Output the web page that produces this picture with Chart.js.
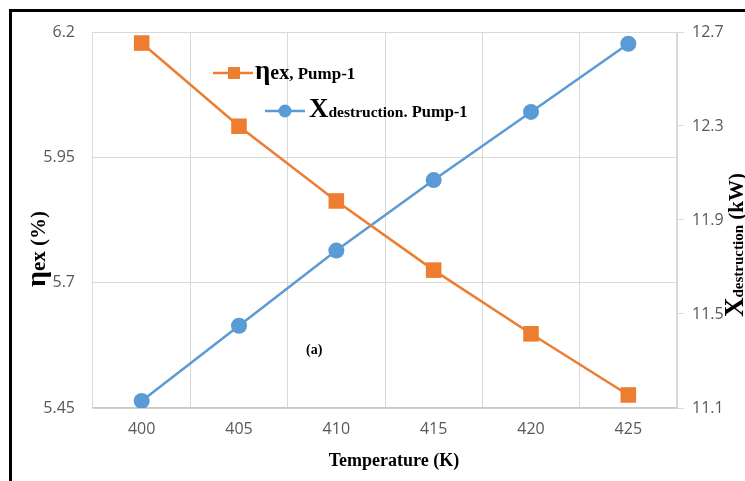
<!DOCTYPE html>
<html>
<head>
<meta charset="utf-8">
<script src="https://cdn.jsdelivr.net/npm/chart.js@4.4.1/dist/chart.umd.min.js"></script>
<style>
    html, body { margin: 0; padding: 0; background: #fff; }
    #wrap { position: relative; width: 745px; height: 481px; overflow: hidden; }
    #frame { position: absolute; left: 9px; top: 9px; width: 760px; height: 500px;
             border-left: 3px solid #000; border-top: 3px solid #000; }
    #chart { position: absolute; left: 0; top: 0; }
</style>
</head>
<body>
<div id="wrap">
    <div id="frame"></div>
    <canvas id="chart" width="745" height="481"></canvas>
</div>
<script>
// Data
const temperatures = ['400', '405', '410', '415', '420', '425'];
const etaEx = [6.178, 6.012, 5.863, 5.725, 5.598, 5.476];          // %
const xDestruction = [11.13, 11.45, 11.77, 12.07, 12.36, 12.65];   // kW
const leftTicks = [5.45, 5.7, 5.95, 6.2];
const rightTicks = [11.1, 11.5, 11.9, 12.3, 12.7];

const ORANGE = '#ED7D31';
const BLUE = '#5B9BD5';
const GRID = '#d9d9d9';
const SERIF = '"Liberation Serif", "Times New Roman", serif';

// draw a run of text pieces [text, font, dy] left to right
function drawRun(ctx, x, y, pieces) {
    pieces.forEach(p => {
        ctx.font = p[1];
        ctx.fillText(p[0], x, y + (p[2] || 0));
        x += ctx.measureText(p[0]).width;
    });
}

// titles, legend and the "(a)" tag
const annotations = {
    id: 'annotations',
    afterDraw(chart) {
        const ctx = chart.ctx;
        ctx.save();
        ctx.fillStyle = '#000';
        ctx.textBaseline = 'alphabetic';
        ctx.textAlign = 'left';

        // x title
        ctx.font = 'bold 18px ' + SERIF;
        const t = 'Temperature (K)';
        ctx.fillText(t, 394 - ctx.measureText(t).width / 2, 466);

        // (a)
        ctx.font = 'bold 14px ' + SERIF;
        ctx.fillText('(a)', 306, 354);

        // left y title
        ctx.save();
        ctx.translate(45, 287);
        ctx.rotate(-Math.PI / 2);
        drawRun(ctx, 0, 0, [
            ['η', 'bold 28px ' + SERIF],
            ['ex (%)', 'bold 21px ' + SERIF]
        ]);
        ctx.restore();

        // right y title
        ctx.save();
        ctx.translate(743, 317);
        ctx.rotate(-Math.PI / 2);
        drawRun(ctx, 0, 0, [
            ['X', 'bold 27px ' + SERIF],
            ['destruction', 'bold 15px ' + SERIF, 0],
            [' (kW)', 'bold 21px ' + SERIF]
        ]);
        ctx.restore();

        // legend item 1
        ctx.strokeStyle = ORANGE;
        ctx.lineWidth = 2.5;
        ctx.beginPath();
        ctx.moveTo(213, 73); ctx.lineTo(253, 73);
        ctx.stroke();
        ctx.fillStyle = ORANGE;
        ctx.fillRect(228, 67, 12, 12);
        ctx.fillStyle = '#000';
        drawRun(ctx, 255, 79, [
            ['η', 'bold 27px ' + SERIF],
            ['ex', 'bold 20px ' + SERIF],
            [', Pump-1', 'bold 17px ' + SERIF]
        ]);

        // legend item 2
        ctx.strokeStyle = BLUE;
        ctx.beginPath();
        ctx.moveTo(265, 111); ctx.lineTo(305, 111);
        ctx.stroke();
        ctx.fillStyle = BLUE;
        ctx.beginPath();
        ctx.arc(285, 111, 6.5, 0, Math.PI * 2);
        ctx.fill();
        ctx.fillStyle = '#000';
        drawRun(ctx, 309, 117, [
            ['X', 'bold 27px ' + SERIF],
            ['destruction', 'bold 15.5px ' + SERIF],
            ['. Pump-1', 'bold 16.5px ' + SERIF]
        ]);
        ctx.restore();
    }
};

const tickFont = { family: '"Open Sans", sans-serif', size: 16 };

new Chart(document.getElementById('chart'), {
    type: 'line',
    data: {
        labels: temperatures,
        datasets: [
            {
                label: 'ηex, Pump-1',
                data: etaEx,
                yAxisID: 'yLeft',
                borderColor: ORANGE,
                backgroundColor: ORANGE,
                borderWidth: 2.5,
                pointStyle: 'rect',
                pointRadius: 11,
                pointBorderWidth: 0,
                tension: 0
            },
            {
                label: 'Xdestruction, Pump-1',
                data: xDestruction,
                yAxisID: 'yRight',
                borderColor: BLUE,
                backgroundColor: BLUE,
                borderWidth: 2.5,
                pointStyle: 'circle',
                pointRadius: 8,
                pointBorderWidth: 0,
                tension: 0
            }
        ]
    },
    options: {
        responsive: false,
        animation: false,
        layout: { padding: { top: 32, left: 0, right: 0, bottom: 0 } },
        plugins: { legend: { display: false }, tooltip: { enabled: false } },
        scales: {
            x: {
                offset: true,
                grid: { color: GRID, offset: true, drawTicks: false },
                border: { color: '#c8c8c8', width: 1.5 },
                ticks: { color: '#595959', font: tickFont, padding: 12, maxRotation: 0 },
                afterFit: s => { s.height = 73; }
            },
            yLeft: {
                position: 'left',
                min: 5.45,
                max: 6.2,
                afterBuildTicks: s => { s.ticks = leftTicks.map(v => ({ value: v })); },
                grid: { color: GRID, drawTicks: false },
                border: { display: false },
                ticks: { color: '#595959', font: tickFont, padding: 18, callback: v => String(v) },
                afterFit: s => { s.width = 93; }
            },
            yRight: {
                position: 'right',
                min: 11.1,
                max: 12.7,
                afterBuildTicks: s => { s.ticks = rightTicks.map(v => ({ value: v })); },
                grid: { color: GRID, drawOnChartArea: false, tickLength: 7 },
                border: { color: GRID },
                ticks: { color: '#595959', font: tickFont, padding: 8, callback: v => String(v) },
                afterFit: s => { s.width = 68; }
            }
        }
    },
    plugins: [annotations]
});
</script>
</body>
</html>
